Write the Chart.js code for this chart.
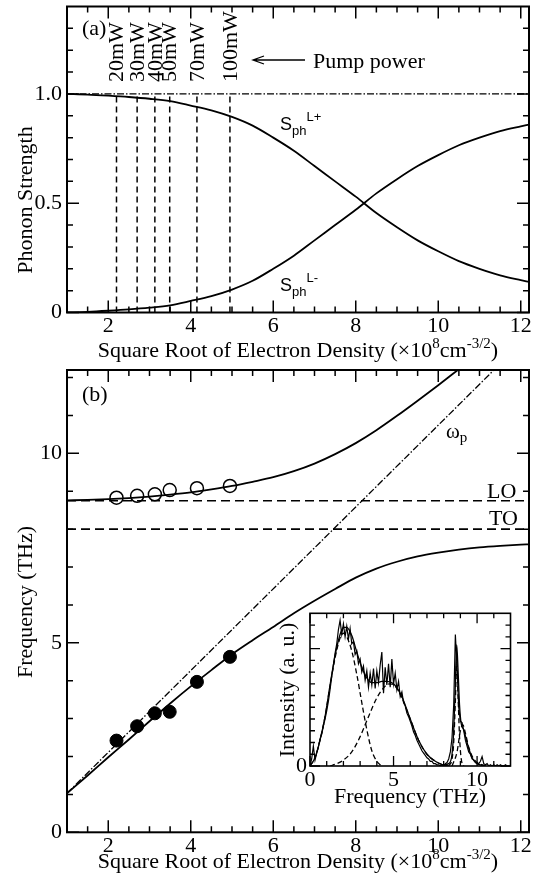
<!DOCTYPE html>
<html>
<head>
<meta charset="utf-8">
<title>Phonon strength and coupled-mode frequencies</title>
<script src="https://cdn.jsdelivr.net/npm/chart.js@4.4.1/dist/chart.umd.min.js"></script>
<style>
  html, body { margin: 0; padding: 0; background: #fff; }
  #figure { position: relative; width: 545px; height: 883px; overflow: hidden; }
  #figure canvas { position: absolute; }
</style>
</head>
<body>
<div id="figure">
  <canvas id="panelA" width="545" height="365" style="left:0;top:0"></canvas>
  <canvas id="panelB" width="545" height="518" style="left:0;top:365px"></canvas>
  <canvas id="inset" width="280" height="215" style="left:250px;top:600px"></canvas>
</div>
<script>
// ---------- shared axis ----------
const densityRange = [1.0, 12.2];
const densityTicks = [2, 4, 6, 8, 10, 12];
const densityMinorTicks = [1.5, 2.5, 3, 3.5, 4.5, 5, 5.5, 6.5, 7, 7.5, 8.5, 9, 9.5, 10.5, 11, 11.5];

// ---------- panel (a): phonon strength ----------
const densityA      = [1.0, 1.5, 2.0, 2.5, 3.0, 3.5, 4.0, 4.5, 5.0, 5.5, 6.0, 6.5, 7.0, 7.5, 8.0, 8.5, 9.0, 9.5, 10.0, 10.5, 11.0, 11.5, 12.0, 12.2];
const strengthPlus  = [1.0, 0.997, 0.992, 0.986, 0.978, 0.967, 0.947, 0.925, 0.895, 0.855, 0.80, 0.74, 0.67, 0.60, 0.53, 0.455, 0.39, 0.33, 0.28, 0.235, 0.20, 0.17, 0.148, 0.14];
const strengthMinus = [0.0, 0.003, 0.008, 0.014, 0.022, 0.033, 0.053, 0.075, 0.105, 0.145, 0.20, 0.26, 0.33, 0.40, 0.47, 0.545, 0.61, 0.67, 0.72, 0.765, 0.80, 0.83, 0.852, 0.86];
const pumpDensity = [2.2, 2.7, 3.13, 3.49, 4.15, 4.95];
const pumpLabels  = ['20mW', '30mW', '40mW', '50mW', '70mW', '100mW'];
const strengthTicks = [0, 0.5, 1.0];
const strengthMinorTicks = [0.1, 0.2, 0.3, 0.4, 0.6, 0.7, 0.8, 0.9, 1.1, 1.2, 1.3];
const strengthRange = [0, 1.4];

// ---------- panel (b): coupled-mode frequencies ----------
const densityB    = [1.0, 1.5, 2.0, 2.5, 3.0, 3.5, 4.0, 4.5, 5.0, 5.5, 6.0, 6.5, 7.0, 7.5, 8.0, 8.5, 9.0, 9.5, 10.0, 10.5, 11.0, 11.5, 12.0, 12.2];
const lowerBranch = [1.03, 1.5, 1.98, 2.45, 2.93, 3.4, 3.85, 4.28, 4.7, 5.07, 5.42, 5.78, 6.11, 6.42, 6.72, 6.96, 7.14, 7.28, 7.38, 7.46, 7.52, 7.56, 7.59, 7.6];
const upperDensity = [1.0, 1.5, 2.0, 2.5, 3.0, 3.5, 4.0, 4.5, 5.0, 5.5, 6.0, 6.5, 7.0, 7.5, 8.0, 8.5, 9.0, 9.5, 10.0, 10.5, 11.0];
const upperBranch  = [8.76, 8.77, 8.79, 8.82, 8.86, 8.91, 8.97, 9.05, 9.14, 9.25, 9.37, 9.53, 9.73, 9.98, 10.27, 10.61, 10.99, 11.39, 11.8, 12.22, 12.64];
const plasmaDensity = [1.0, 11.35];
const plasmaFreq    = [1.03, 12.2];
const freqLO = 8.75;
const freqTO = 8.0;
const measuredDensity = [2.2, 2.7, 3.13, 3.49, 4.15, 4.95];
const measuredLower   = [2.42, 2.80, 3.14, 3.18, 3.97, 4.63];
const measuredUpper   = [8.83, 8.88, 8.92, 9.03, 9.08, 9.14];
const freqTicks = [0, 5, 10];
const freqMinorTicks = [1, 2, 3, 4, 6, 7, 8, 9, 11, 12];
const freqRange = [0, 12.2];

// ---------- inset: emission spectrum and its fit ----------
const spectrumStep = 0.1;
const spectrum = [
  0.00, 0.06, 0.17, 0.05, 0.11, 0.16, 0.23, 0.27, 0.34, 0.40,
  0.47, 0.55, 0.65, 0.76, 0.86, 0.96, 1.04, 1.16, 1.24, 1.12,
  1.21, 1.10, 1.19, 1.08, 1.17, 1.04, 1.06, 0.95, 0.98, 0.87,
  0.91, 0.80, 0.85, 0.73, 0.81, 0.67, 0.79, 0.69, 0.83, 0.66,
  0.81, 0.71, 0.86, 0.97, 0.62, 0.84, 0.69, 0.87, 0.67, 0.91,
  0.70, 0.79, 0.65, 0.72, 0.59, 0.63, 0.54, 0.51, 0.45, 0.42,
  0.38, 0.34, 0.29, 0.26, 0.22, 0.19, 0.16, 0.13, 0.11, 0.09,
  0.07, 0.06, 0.04, 0.04, 0.02, 0.02, 0.01, 0.01, 0.00, 0.01,
  0.00, 0.02, 0.03, 0.06, 0.12, 0.24, 0.52, 1.12, 0.84, 0.50,
  0.38, 0.37, 0.30, 0.22, 0.17, 0.12, 0.10, 0.06, 0.05, 0.03,
  0.02, 0.02, 0.04, 0.08, 0.02, 0.01, 0.02, 0.00, 0.01, 0.00,
  0.01, 0.00, 0.01, 0.00, 0.01, 0.00, 0.00, 0.01, 0.00, 0.00,
  0.00
];
const fitLowX = [0, 0.3, 0.6, 0.9, 1.2, 1.5, 1.8, 2.0, 2.2, 2.5, 2.8, 3.1, 3.4, 3.7, 4.0, 4.3];
const fitLowY = [0, 0.07, 0.22, 0.42, 0.68, 0.92, 1.09, 1.13, 1.10, 0.98, 0.78, 0.54, 0.31, 0.13, 0.04, 0];
const fitMidX = [1.2, 1.6, 2.0, 2.5, 3.0, 3.5, 4.0, 4.5, 4.8, 5.1, 5.5, 6.0, 6.5, 7.0, 7.5, 8.0, 8.3];
const fitMidY = [0, 0.02, 0.05, 0.12, 0.25, 0.42, 0.58, 0.68, 0.70, 0.68, 0.58, 0.40, 0.22, 0.10, 0.04, 0.01, 0];
const fitLOX = [8.3, 8.5, 8.6, 8.7, 8.78, 8.86, 8.95, 9.05, 9.2];
const fitLOY = [0, 0.06, 0.20, 0.55, 0.88, 0.60, 0.25, 0.06, 0];
const fitPlusX = [8.5, 8.8, 9.0, 9.15, 9.3, 9.5, 9.8, 10.2, 10.6];
const fitPlusY = [0, 0.12, 0.30, 0.35, 0.28, 0.16, 0.06, 0.015, 0];
const fitSumX = [0, 0.3, 0.6, 0.9, 1.2, 1.5, 1.8, 2.0, 2.2, 2.5, 2.8, 3.1, 3.4, 3.7, 4.0, 4.3, 4.6, 5.0, 5.5, 6.0, 6.5, 7.0, 7.5, 8.0, 8.3, 8.5, 8.6, 8.7, 8.78, 8.86, 8.95, 9.05, 9.2, 9.4, 9.7, 10.0, 10.5];
const fitSumY = [0, 0.07, 0.22, 0.42, 0.69, 0.94, 1.12, 1.18, 1.18, 1.11, 0.97, 0.84, 0.75, 0.71, 0.71, 0.72, 0.72, 0.70, 0.59, 0.40, 0.22, 0.10, 0.04, 0.01, 0.02, 0.10, 0.30, 0.70, 1.03, 0.82, 0.52, 0.36, 0.31, 0.20, 0.07, 0.02, 0];
const insetFreqRange = [0, 12];
const insetFreqTicks = [0, 5, 10];
const insetFreqMinorTicks = [1, 2, 3, 4, 6, 7, 8, 9, 11];
const insetIntensityRange = [0, 1.3];
const insetIntensityTicks = [0];
const insetIntensityMajor = [0, 1.0];
const insetIntensityMinorTicks = [0.1, 0.2, 0.3, 0.4, 0.5, 0.6, 0.7, 0.8, 0.9, 1.1, 1.2];

// ---------- drawing helpers ----------
const SERIF = '"Liberation Serif", "Times New Roman", serif';
const SANS = '"Liberation Sans", Arial, sans-serif';
const FS = 22;
const F22 = `${FS}px ${SERIF}`;
const FSUP = `15px ${SERIF}`;

const pts = (xs, ys) => xs.map((x, i) => ({ x, y: ys[i] }));

function richText(ctx, parts, x, y, align) {
  let w = 0;
  for (const [t, f] of parts) { ctx.font = f; w += ctx.measureText(t).width; }
  let cx = align === 'center' ? x - w / 2 : x;
  ctx.textAlign = 'left';
  ctx.textBaseline = 'alphabetic';
  for (const [t, f, dy] of parts) {
    ctx.font = f;
    ctx.fillText(t, cx, y + dy);
    cx += ctx.measureText(t).width;
  }
}

function verticalText(ctx, text, x, y) {
  ctx.save();
  ctx.translate(x, y);
  ctx.rotate(-Math.PI / 2);
  ctx.font = F22;
  ctx.textAlign = 'center';
  ctx.textBaseline = 'middle';
  ctx.fillText(text, 0, 0);
  ctx.restore();
}

const densityTitle = [
  ['Square Root of Electron Density (\u00d710', F22, 0],
  ['8', FSUP, -9],
  ['cm', F22, 0],
  ['-3/2', FSUP, -9],
  [')', F22, 0]
];

// frame with inward ticks on all four sides
const frameTicks = {
  id: 'frameTicks',
  afterDatasetsDraw(chart, _args, o) {
    const { ctx, chartArea: a, scales } = chart;
    const sx = scales.x, sy = scales.y;
    ctx.save();
    ctx.strokeStyle = '#000';
    ctx.lineWidth = o.tickWidth;
    ctx.beginPath();
    const xt = (vals, len) => vals.forEach(v => {
      const p = sx.getPixelForValue(v);
      ctx.moveTo(p, a.bottom); ctx.lineTo(p, a.bottom - len);
      ctx.moveTo(p, a.top); ctx.lineTo(p, a.top + len);
    });
    const yt = (vals, len) => vals.forEach(v => {
      const p = sy.getPixelForValue(v);
      ctx.moveTo(a.left, p); ctx.lineTo(a.left + len, p);
      ctx.moveTo(a.right, p); ctx.lineTo(a.right - len, p);
    });
    xt(o.xMajor, o.major); xt(o.xMinor, o.minor);
    yt(o.yMajor, o.major); yt(o.yMinor, o.minor);
    ctx.stroke();
    ctx.lineWidth = o.frameWidth;
    ctx.strokeRect(a.left, a.top, a.right - a.left, a.bottom - a.top);
    ctx.restore();
  }
};

const whiteArea = {
  id: 'whiteArea',
  beforeDraw(chart) {
    const { ctx, chartArea: a } = chart;
    ctx.save();
    ctx.fillStyle = '#fff';
    ctx.fillRect(a.left, a.top, a.right - a.left, a.bottom - a.top);
    ctx.restore();
  }
};

function xAxis(range, ticks, height, padding, fmt) {
  return {
    type: 'linear', position: 'bottom', min: range[0], max: range[1],
    grid: { display: false, drawTicks: false }, border: { display: false },
    ticks: { font: { family: SERIF, size: FS }, color: '#000', padding, maxRotation: 0, autoSkip: false, callback: fmt },
    afterBuildTicks: s => { s.ticks = ticks.map(v => ({ value: v })); },
    afterFit: s => { s.height = height; s.paddingLeft = 0; s.paddingRight = 0; }
  };
}
function yAxis(range, ticks, width, padding, fmt) {
  return {
    type: 'linear', position: 'left', min: range[0], max: range[1],
    grid: { display: false, drawTicks: false }, border: { display: false },
    ticks: { font: { family: SERIF, size: FS }, color: '#000', padding, autoSkip: false, callback: fmt },
    afterBuildTicks: s => { s.ticks = ticks.map(v => ({ value: v })); },
    afterFit: s => { s.width = width; s.paddingTop = 0; s.paddingBottom = 0; }
  };
}
function lineSet(data, opts) {
  return Object.assign({ data, showLine: true, pointRadius: 0, borderColor: '#000', borderWidth: 1.8, fill: false, tension: 0 }, opts || {});
}
const baseOptions = {
  responsive: false, animation: false, devicePixelRatio: 1, events: [],
  plugins: { legend: { display: false }, tooltip: { enabled: false } }
};

// ---------- panel (a) ----------
const panelAText = {
  id: 'panelAText',
  afterDraw(chart) {
    const { ctx, scales: { x } } = chart;
    ctx.save();
    ctx.fillStyle = '#000';
    ctx.strokeStyle = '#000';
    richText(ctx, [['(a)', F22, 0]], 82, 35);
    // pump power of each measurement, written upward above its marker line
    pumpDensity.forEach((d, i) => {
      const px = x.getPixelForValue(d);
      ctx.save();
      ctx.translate(px + 1, 82);
      ctx.rotate(-Math.PI / 2);
      ctx.font = F22;
      ctx.textAlign = 'left';
      ctx.textBaseline = 'middle';
      ctx.fillText(pumpLabels[i], 0, 0);
      ctx.restore();
    });
    // arrow pointing at the labels
    ctx.lineWidth = 1.3;
    ctx.beginPath();
    ctx.moveTo(305, 60); ctx.lineTo(253, 60);
    ctx.moveTo(264, 56); ctx.lineTo(253, 60); ctx.lineTo(264, 64);
    ctx.stroke();
    richText(ctx, [['Pump power', F22, 0]], 313, 68);
    richText(ctx, [['S', `18px ${SANS}`, 0], ['ph', `13px ${SANS}`, 5], ['L+', `13px ${SANS}`, -9]], 280, 130);
    richText(ctx, [['S', `18px ${SANS}`, 0], ['ph', `13px ${SANS}`, 5], ['L-', `13px ${SANS}`, -9]], 280, 291);
    richText(ctx, densityTitle, 298, 357, 'center');
    verticalText(ctx, 'Phonon Strength', 26, 200);
    ctx.restore();
  }
};

const pumpMarkers = pumpDensity.map(d => lineSet(pts([d, d], [0, 1.0]), { borderWidth: 1.5, borderDash: [6, 4] }));

new Chart(document.getElementById('panelA'), {
  type: 'scatter',
  data: {
    datasets: [
      lineSet(pts(densityRange, [1.0, 1.0]), { borderWidth: 1.3, borderDash: [7, 2, 1.5, 2] }),
      ...pumpMarkers,
      lineSet(pts(densityA, strengthPlus), { cubicInterpolationMode: 'monotone' }),
      lineSet(pts(densityA, strengthMinus), { cubicInterpolationMode: 'monotone' })
    ]
  },
  options: Object.assign({}, baseOptions, {
    layout: { autoPadding: false, padding: { top: 6.5, right: 16, left: 0, bottom: 0 } },
    scales: {
      x: xAxis(densityRange, densityTicks, 52.5, 1, v => String(v)),
      y: yAxis(strengthRange, strengthTicks, 67, 5, v => (v === 0 ? '0' : v.toFixed(1)))
    },
    plugins: Object.assign({}, baseOptions.plugins, {
      frameTicks: { xMajor: densityTicks, xMinor: densityMinorTicks, yMajor: strengthTicks, yMinor: strengthMinorTicks, major: 12, minor: 6, tickWidth: 1.5, frameWidth: 2 }
    })
  }),
  plugins: [frameTicks, panelAText]
});

// ---------- panel (b) ----------
const panelBText = {
  id: 'panelBText',
  afterDraw(chart) {
    const { ctx } = chart;
    ctx.save();
    ctx.fillStyle = '#000';
    richText(ctx, [['(b)', F22, 0]], 82, 36);
    richText(ctx, [['\u03c9', `21px ${SERIF}`, 0], ['p', `15px ${SERIF}`, 4]], 446, 73);
    richText(ctx, [['LO', F22, 0]], 487, 133);
    richText(ctx, [['TO', F22, 0]], 489, 160);
    richText(ctx, densityTitle, 298, 503, 'center');
    verticalText(ctx, 'Frequency (THz)', 26, 237);
    ctx.restore();
  }
};

new Chart(document.getElementById('panelB'), {
  type: 'scatter',
  data: {
    datasets: [
      lineSet(pts(densityRange, [freqLO, freqLO]), { borderWidth: 1.6, borderDash: [9, 5] }),
      lineSet(pts(densityRange, [freqTO, freqTO]), { borderWidth: 1.6, borderDash: [9, 5] }),
      lineSet(pts(plasmaDensity, plasmaFreq), { borderWidth: 1.3, borderDash: [7, 2, 1.5, 2] }),
      lineSet(pts(upperDensity, upperBranch), { cubicInterpolationMode: 'monotone' }),
      lineSet(pts(densityB, lowerBranch), { cubicInterpolationMode: 'monotone' }),
      { data: pts(measuredDensity, measuredUpper), showLine: false, pointRadius: 6.5, pointBackgroundColor: '#fff', pointBorderColor: '#000', pointBorderWidth: 1.5 },
      { data: pts(measuredDensity, measuredLower), showLine: false, pointRadius: 6.5, pointBackgroundColor: '#000', pointBorderColor: '#000', pointBorderWidth: 1 }
    ]
  },
  options: Object.assign({}, baseOptions, {
    layout: { autoPadding: false, padding: { top: 5, right: 16, left: 0, bottom: 0 } },
    scales: {
      x: xAxis(densityRange, densityTicks, 50.7, 1, v => String(v)),
      y: yAxis(freqRange, freqTicks, 67, 5, v => String(v))
    },
    plugins: Object.assign({}, baseOptions.plugins, {
      frameTicks: { xMajor: densityTicks, xMinor: densityMinorTicks, yMajor: freqTicks, yMinor: freqMinorTicks, major: 12, minor: 6, tickWidth: 1.5, frameWidth: 2 }
    })
  }),
  plugins: [frameTicks, panelBText]
});

// ---------- inset ----------
const insetText = {
  id: 'insetText',
  afterDraw(chart) {
    const { ctx } = chart;
    ctx.save();
    ctx.fillStyle = '#000';
    richText(ctx, [['Frequency (THz)', F22, 0]], 160, 203, 'center');
    verticalText(ctx, 'Intensity (a. u.)', 38, 90);
    ctx.restore();
  }
};

new Chart(document.getElementById('inset'), {
  type: 'scatter',
  data: {
    datasets: [
      lineSet(spectrum.map((v, i) => ({ x: i * spectrumStep, y: v })), { borderWidth: 1.2 }),
      lineSet(pts(fitSumX, fitSumY), { borderWidth: 1.3, cubicInterpolationMode: 'monotone' }),
      lineSet(pts(fitLowX, fitLowY), { borderWidth: 1.3, borderDash: [5, 3], cubicInterpolationMode: 'monotone' }),
      lineSet(pts(fitMidX, fitMidY), { borderWidth: 1.3, borderDash: [5, 3], cubicInterpolationMode: 'monotone' }),
      lineSet(pts(fitLOX, fitLOY), { borderWidth: 1.3, borderDash: [5, 3], cubicInterpolationMode: 'monotone' }),
      lineSet(pts(fitPlusX, fitPlusY), { borderWidth: 1.3, borderDash: [5, 3], cubicInterpolationMode: 'monotone' })
    ]
  },
  options: Object.assign({}, baseOptions, {
    layout: { autoPadding: false, padding: { top: 13.3, right: 19.5, left: 0, bottom: 0 } },
    scales: {
      x: xAxis(insetFreqRange, insetFreqTicks, 49, 1, v => String(v)),
      y: yAxis(insetIntensityRange, insetIntensityTicks, 60, 3, v => String(v))
    },
    plugins: Object.assign({}, baseOptions.plugins, {
      frameTicks: { xMajor: insetFreqTicks, xMinor: insetFreqMinorTicks, yMajor: insetIntensityMajor, yMinor: insetIntensityMinorTicks, major: 10, minor: 5, tickWidth: 1.3, frameWidth: 1.6 }
    })
  }),
  plugins: [whiteArea, frameTicks, insetText]
});
</script>
</body>
</html>
